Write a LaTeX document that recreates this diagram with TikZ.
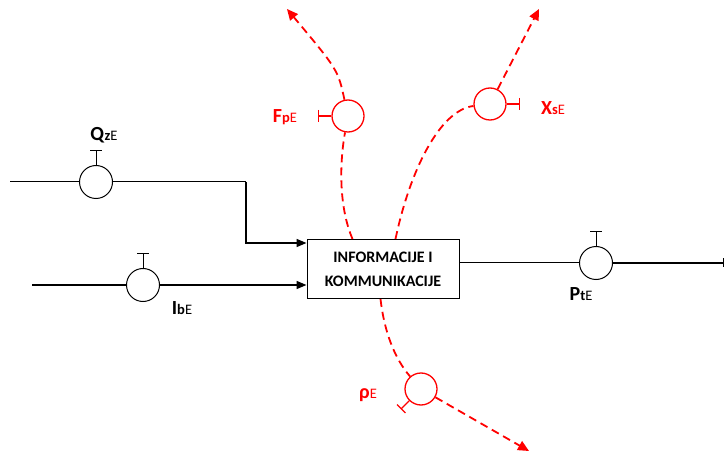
\documentclass[tikz,border=0pt]{standalone}
\usepackage{fontspec}
\setmainfont{Carlito}
\usetikzlibrary{arrows.meta,calc}
\newcommand{\biglet}[1]{{\fontsize{20}{20}\selectfont\bfseries #1}}
\newcommand{\smllet}[1]{{\fontsize{14.5}{14.5}\selectfont #1}}
\begin{document}
\begin{tikzpicture}[x=1pt,y=-1pt,
  valve/.style={circle,draw,line width=1pt,minimum size=33pt,inner sep=0pt},
  rvalve/.style={valve,draw=red,line width=1.3pt,minimum size=32pt},
  wire/.style={line width=1pt},
  wirethick/.style={line width=1.5pt},
  rdash/.style={red,line width=1.8pt,dash pattern=on 8pt off 5pt},
  lab/.style={inner sep=0pt,anchor=center},
  rlab/.style={lab,text=red},
  blk/.style={-{Triangle[length=10pt,width=8pt]}},
  rtip/.style={-{Triangle[length=11pt,width=10pt]}},
  box/.style={draw,line width=1pt,minimum width=152pt,minimum height=59pt,inner sep=0pt,align=center,
    font=\fontsize{16}{24}\selectfont\bfseries}
]
\useasboundingbox (0,0) rectangle (725,454);

% main block
\node[box] (box) at (383,269) {INFORMACIJE I\\KOMMUNIKACIJE};

% valves
\node[valve] (qz) at (96,182) {};
\node[valve] (ib) at (143,285) {};
\node[valve] (pt) at (596,263) {};
\node[rvalve] (fp) at (348,116) {};
\node[rvalve] (xs) at (490,104) {};
\node[rvalve] (rho) at (421,389) {};

% valve stems (T handles)
\draw[wire] (qz.north) -- ++(0,-14) coordinate (qzt);
\draw[wire] ($(qzt)+(-6,0)$) -- ($(qzt)+(6,0)$);
\draw[wire] (ib.north) -- ++(0,-14) coordinate (ibt);
\draw[wire] ($(ibt)+(-6,0)$) -- ($(ibt)+(6,0)$);
\draw[wire] (pt.north) -- ++(0,-14) coordinate (ptt);
\draw[wire] ($(ptt)+(-6,0)$) -- ($(ptt)+(6,0)$);
\draw[red,line width=1.3pt] (fp.west) -- ++(-13,0) coordinate (fpt);
\draw[red,line width=1.3pt] ($(fpt)+(0,-6)$) -- ($(fpt)+(0,6)$);
\draw[red,line width=1.3pt] (xs.east) -- ++(13,0) coordinate (xst);
\draw[red,line width=1.3pt] ($(xst)+(0,-6)$) -- ($(xst)+(0,6)$);
\draw[red,line width=1.3pt] (rho.225) -- ++(-8,8) coordinate (rhot);
\draw[red,line width=1.3pt] ($(rhot)+(-4.2,-4.2)$) -- ($(rhot)+(4.2,4.2)$);

% black wires
\coordinate (qin) at (10,182);
\coordinate (qcorner) at (246,182);
\coordinate (bin1) at ($(box.west)+(0,-26)$);
\coordinate (iin) at (32,285);
\coordinate (bin2) at ($(box.west)+(0,16)$);
\coordinate (pout) at (724,263);
\draw[wire] (qin) -- (qz);
\draw[wire] (qz) -- (qcorner);
\draw[wirethick,blk] (qcorner) |- (bin1);
\draw[wirethick] (iin) -- (ib);
\draw[wirethick,blk] (ib) -- (bin2);
\draw[wire] (pt -| box.east) -- (pt);
\draw[wirethick,-{Bar[width=9pt]}] (pt) -- (pout);

% red dashed flows
\coordinate (fout) at (287,9);
\coordinate (fbox) at ($(box.north west)+(46,0)$);
\coordinate (xout) at (539,9);
\coordinate (xbox) at ($(box.north west)+(89,0)$);
\coordinate (rbox) at ($(box.south west)+(74,0)$);
\coordinate (rout) at (529,451);
\draw[rdash,rtip] (fp) .. controls (338,70) .. (fout);
\draw[rdash] (fbox) .. controls (338,205) and (340,160) .. (fp);
\draw[rdash] (xbox) .. controls (410,170) and (440,110) .. (xs);
\draw[rdash,rtip] (xs) -- (xout);
\draw[rdash] (rbox) .. controls (384,330) and (394,358) .. (rho);
\draw[rdash,rtip] (rho) -- (rout);

% labels
\node[lab] (lq) at (104,135) {\biglet{Q}\smllet{\textbf{z}E}};
\node[lab] (li) at (182,308) {\biglet{I}\smllet{\textbf{b}E}};
\node[lab] (lp) at (581,294) {\biglet{P}\smllet{\textbf{t}E}};
\node[rlab] (lf) at (285,117) {\biglet{F}\smllet{\textbf{p}E}};
\node[rlab] (lx) at (553,108) {\biglet{X}\smllet{\textbf{s}E}};
\node[rlab] (lr) at (368,395) {\biglet{ρ}\smllet{E}};
\end{tikzpicture}
\end{document}
